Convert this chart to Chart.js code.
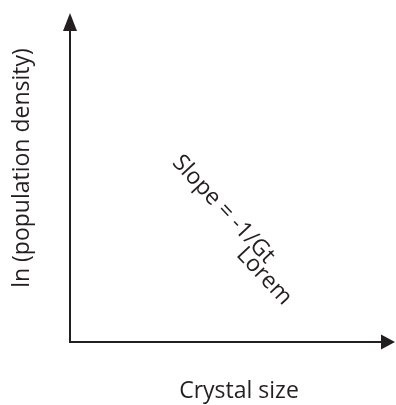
<!DOCTYPE html>
<html>
<head>
<meta charset="utf-8">
<script src="https://cdn.jsdelivr.net/npm/chart.js@4/dist/chart.umd.min.js"></script>
<style>
  html, body { margin: 0; padding: 0; background: #ffffff; }
  canvas { display: block; }
</style>
</head>
<body>
<canvas id="chart" width="396" height="405"></canvas>
<script>
// Axis ranges (arbitrary units; the diagram has no tick values)
const xRange = [0, 10];
const yRange = [0, 10];

// Axis titles
const xTitle = 'Crystal size';
const yTitle = 'ln (population density)';

// Annotation lines along the slope, centred at these data positions
const noteLabels = ['Slope = -1/Gt', 'Lorem'];
const noteX = [4.72, 5.97];
const noteY = [4.03, 2.0];

const INK = '#231f20';
const FONT = '"Open Sans", "Liberation Sans", sans-serif';

const diagramPlugin = {
  id: 'diagram',
  afterDraw(chart) {
    const { ctx, chartArea: a, scales } = chart;
    ctx.save();
    ctx.strokeStyle = INK;
    ctx.fillStyle = INK;
    ctx.lineWidth = 2;
    ctx.lineCap = 'butt';

    // y axis with arrow
    ctx.beginPath();
    ctx.moveTo(a.left, a.bottom + 1);
    ctx.lineTo(a.left, a.top + 14);
    ctx.stroke();
    ctx.beginPath();
    ctx.moveTo(a.left, a.top);
    ctx.lineTo(a.left - 7, a.top + 18);
    ctx.lineTo(a.left + 7, a.top + 18);
    ctx.closePath();
    ctx.fill();

    // x axis with arrow
    ctx.beginPath();
    ctx.moveTo(a.left - 1, a.bottom);
    ctx.lineTo(a.right - 10, a.bottom);
    ctx.stroke();
    ctx.beginPath();
    ctx.moveTo(a.right, a.bottom);
    ctx.lineTo(a.right - 14, a.bottom - 7.5);
    ctx.lineTo(a.right - 14, a.bottom + 7.5);
    ctx.closePath();
    ctx.fill();

    // axis titles
    ctx.font = '23px ' + FONT;
    ctx.textAlign = 'center';
    ctx.textBaseline = 'middle';
    ctx.fillText(xTitle, 239, 391);
    ctx.save();
    ctx.translate(22, 168);
    ctx.rotate(-Math.PI / 2);
    ctx.fillText(yTitle, 0, 0);
    ctx.restore();

    // slope annotation
    const angle = 47 * Math.PI / 180;
    noteLabels.forEach((label, i) => {
      const px = scales.x.getPixelForValue(noteX[i]);
      const py = scales.y.getPixelForValue(noteY[i]);
      ctx.save();
      ctx.translate(px, py);
      ctx.rotate(angle);
      ctx.fillText(label, 0, 0);
      ctx.restore();
    });
    ctx.restore();
  }
};

new Chart(document.getElementById('chart'), {
  type: 'scatter',
  data: { datasets: [{ data: [] }] },
  options: {
    responsive: false,
    animation: false,
    layout: { padding: { left: 70, right: 1, top: 13, bottom: 63 } },
    scales: {
      x: { display: false, min: xRange[0], max: xRange[1] },
      y: { display: false, min: yRange[0], max: yRange[1] }
    },
    plugins: { legend: { display: false }, tooltip: { enabled: false } }
  },
  plugins: [diagramPlugin]
});
</script>
</body>
</html>
